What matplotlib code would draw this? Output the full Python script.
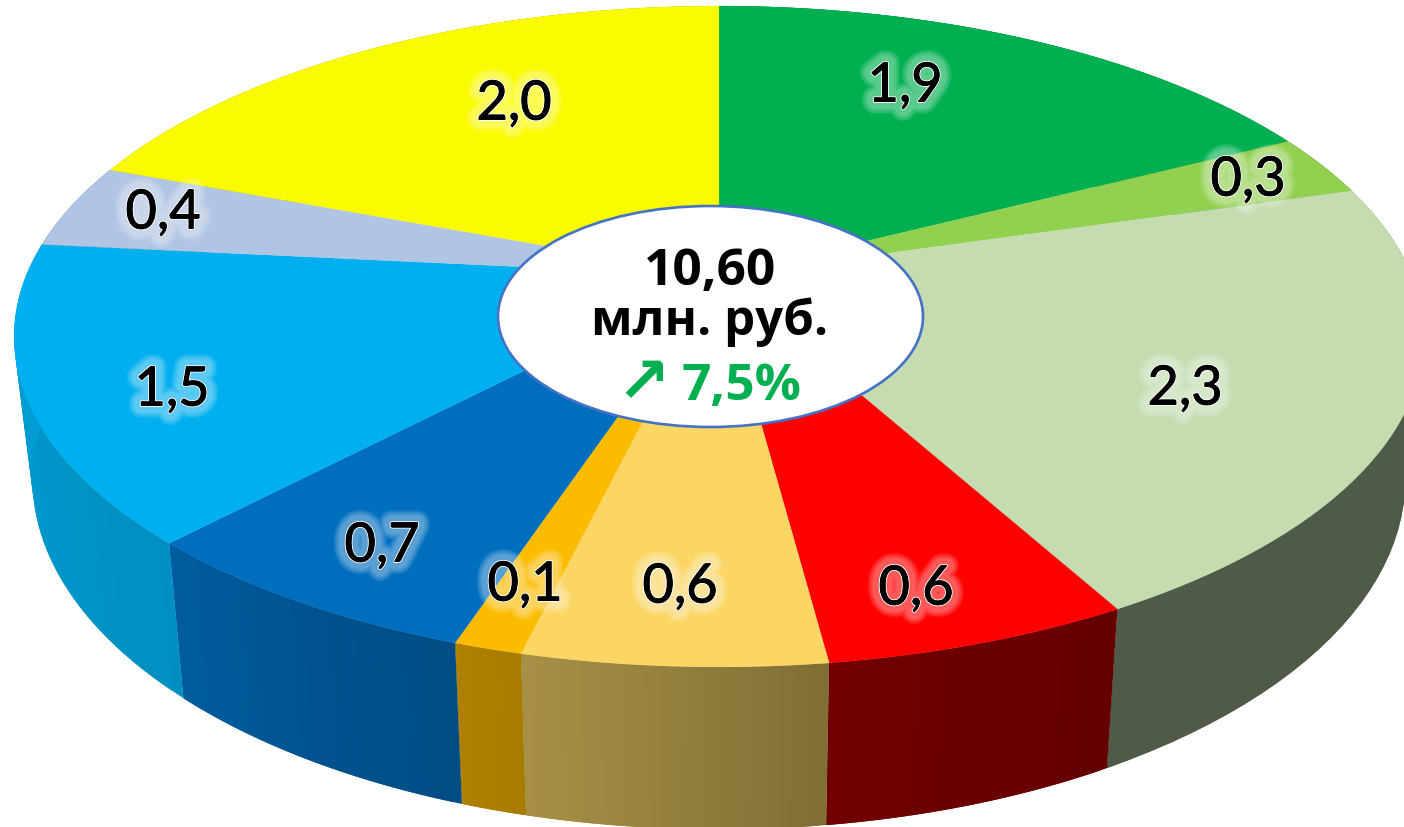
import numpy as np
import matplotlib
matplotlib.use("Agg")
import matplotlib.pyplot as plt
from matplotlib.patches import Polygon, Ellipse
import matplotlib.patheffects as pe
from matplotlib.colors import to_rgb

# ---- data (shares, labels as printed) ----
values = [1.85, 0.32, 2.28, 0.63, 0.62, 0.14, 0.74, 1.54, 0.44, 2.04]
labels = ["1,9", "0,3", "2,3", "0,6", "0,6", "0,1", "0,7", "1,5", "0,4", "2,0"]
top_colors = ["#00B050", "#92D050", "#C4DCB0", "#FF0000", "#FBD664",
              "#FBBC00", "#006EBE", "#00AFEF", "#B0C4E4", "#FAFA00"]
side_start = ["#007A38", "#668F38", "#505A48", "#640000", "#7F6E35",
              "#A67C00", "#004C84", "#008FC0", "#7C8AA0", "#B0B000"]
side_end = ["#007A38", "#668F38", "#505A48", "#700000", "#A89045",
            "#B08000", "#005C9E", "#00A0D8", "#7C8AA0", "#B0B000"]
label_xy = [(905, 87), (1248, 181), (1185, 390), (916, 590), (680, 588),
            (525, 586), (382, 547), (172, 391), (163, 214), (514, 105)]
total_text = "10,60"
unit_text = "млн. руб."
growth_text = "7,5%"

# ---- perspective geometry of the disc ----
X0, Y0 = 719.0, 277.0
A, B, K = 693.0, 319.4, 0.183
SX, SY, Y1 = 0.974, 1.06, 416.0


def top(theta):
    u, v = np.sin(theta), -np.cos(theta)
    d = 1 - K * v
    return X0 + A * u / d, Y0 + B * v / d


def bottom(theta):
    x, y = top(theta)
    return X0 + SX * (x - X0), Y1 + SY * (y - Y0)


fig = plt.figure(figsize=(14.04, 8.28), dpi=100, facecolor="white")
ax = fig.add_axes([0, 0, 1, 1])
ax.set_xlim(0, 1404)
ax.set_ylim(828, 0)
ax.axis("off")

edges = np.concatenate([[0], np.cumsum(values)]) / np.sum(values) * 2 * np.pi

# side wall: overlapping strips so the shading runs smoothly across each slice
N = 40
for i in range(len(values)):
    ts = np.linspace(edges[i], edges[i + 1], N + 1)
    c0, c1 = np.array(to_rgb(side_start[i])), np.array(to_rgb(side_end[i]))
    for j in range(N):
        tt = np.linspace(ts[j], edges[i + 1], 2) if j >= N - 2 else np.array([ts[j], ts[j + 2]])
        xt, yt = top(tt)
        xb, yb = bottom(tt)
        c = c0 + (c1 - c0) * (j + 0.5) / N
        ax.add_patch(Polygon([(xt[0], yt[0]), (xt[1], yt[1]), (xb[1], yb[1]), (xb[0], yb[0])],
                             closed=True, facecolor=c, edgecolor="none", zorder=1))

# top face
for i in range(len(values)):
    ts = np.linspace(edges[i], edges[i + 1], 120)
    x, y = top(ts)
    pts = [(X0, Y0)] + list(zip(x, y))
    ax.add_patch(Polygon(pts, closed=True, facecolor=top_colors[i],
                         edgecolor=top_colors[i], lw=0.15, zorder=2))

# value labels with soft white glow
glow = [pe.withStroke(linewidth=w, foreground="white", alpha=0.085) for w in (18, 16, 14, 12, 10)]
glow += [pe.withStroke(linewidth=2.0, foreground="white"),
         pe.withStroke(linewidth=0.7, foreground="black")]
for lab, (lx, ly) in zip(labels, label_xy):
    ax.text(lx, ly, lab, ha="center", va="center", fontsize=39, family="Lato",
            color="black", zorder=5, path_effects=glow)

# centre plate
ax.add_patch(Ellipse((710.5, 317.5), 425, 221, facecolor="white",
                     edgecolor="#4472C4", lw=1.9, zorder=6))
ax.text(710, 285, total_text, ha="center", va="baseline", fontsize=37, weight="bold",
        family="Open Sans", color="black", zorder=7)
ax.text(710, 335, unit_text, ha="center", va="baseline", fontsize=35.5, weight="bold",
        family="Open Sans", color="black", zorder=7)
ax.text(742, 400, growth_text, ha="center", va="baseline", fontsize=37, weight="bold",
        family="Open Sans", color="#00B050", zorder=7)
ax.text(643, 402, "\u2197", ha="center", va="baseline", fontsize=46, weight="bold",
        family="DejaVu Sans", color="#00B050", zorder=7)

fig.savefig("out.png", dpi=100, facecolor="white")
